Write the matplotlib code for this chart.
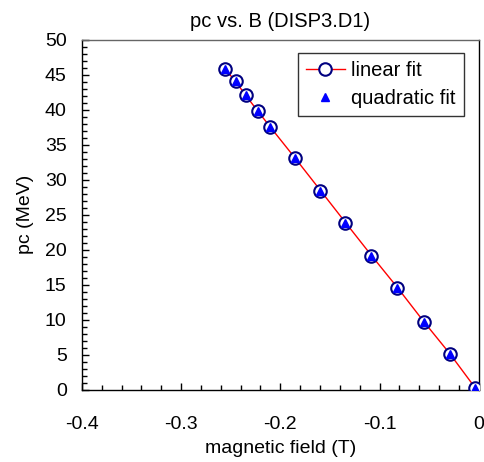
import numpy as np
import matplotlib.pyplot as plt
from matplotlib.ticker import MultipleLocator

plt.rcParams['font.family'] = ['Liberation Sans', 'DejaVu Sans']

# values
field = [-0.2559, -0.2451, -0.2348, -0.2230, -0.2103, -0.1851, -0.1595,
         -0.1343, -0.1081, -0.0819, -0.0554, -0.0292, -0.0037]
pc_linear = [45.86, 44.04, 42.04, 39.86, 37.57, 33.10, 28.47,
             23.90, 19.19, 14.61, 9.76, 5.19, 0.33]
pc_quad = [45.86, 44.04, 42.04, 39.86, 37.57, 33.10, 28.47,
           23.90, 19.19, 14.61, 9.76, 5.19, 0.33]
xticks = [-0.4, -0.3, -0.2, -0.1, 0]
xticklabels = ['-0.4', '-0.3', '-0.2', '-0.1', '0']

fig = plt.figure(figsize=(4.85, 4.62), dpi=100)
ax = fig.add_axes([0.169, 0.156, 0.818, 0.758])

ax.plot(field, pc_linear, color='red', lw=1, marker='o', ms=9,
        mfc='white', mec='#000080', mew=1.5, label='linear fit', zorder=3)
ax.plot(field, pc_quad, ls='none', marker='^', ms=6, color='blue',
        label='quadratic fit', zorder=4)

ax.set_xlim(-0.4, 0)
ax.set_ylim(0, 50)
ax.set_xticks(xticks)
ax.set_xticklabels(xticklabels)
ax.xaxis.set_minor_locator(MultipleLocator(0.02))
ax.yaxis.set_major_locator(MultipleLocator(5))
ax.yaxis.set_minor_locator(MultipleLocator(1))

ax.tick_params(which='both', direction='in', top=False, right=False, labelsize=14)
ax.tick_params(axis='x', pad=19)
ax.tick_params(axis='y', pad=11)
ax.tick_params(which='major', length=5, width=1)
ax.tick_params(which='minor', length=3.6, width=1)
for s in ax.spines.values():
    s.set_linewidth(1)
ax.spines['top'].set_color('#666666')

ax.set_title('pc vs. B (DISP3.D1)', fontsize=14.5, pad=9)
ax.set_xlabel('magnetic field (T)', fontsize=14, labelpad=5)
ax.set_ylabel('pc (MeV)', fontsize=14, labelpad=8)

leg = ax.legend(loc='upper right', bbox_to_anchor=(0.962, 0.963), fontsize=14.5,
                frameon=True, fancybox=False, edgecolor='black',
                handlelength=1.95, borderpad=0.4, labelspacing=0.45,
                handletextpad=0.3, borderaxespad=0)
leg.get_frame().set_linewidth(1)

fig.savefig('out.png', dpi=100)
